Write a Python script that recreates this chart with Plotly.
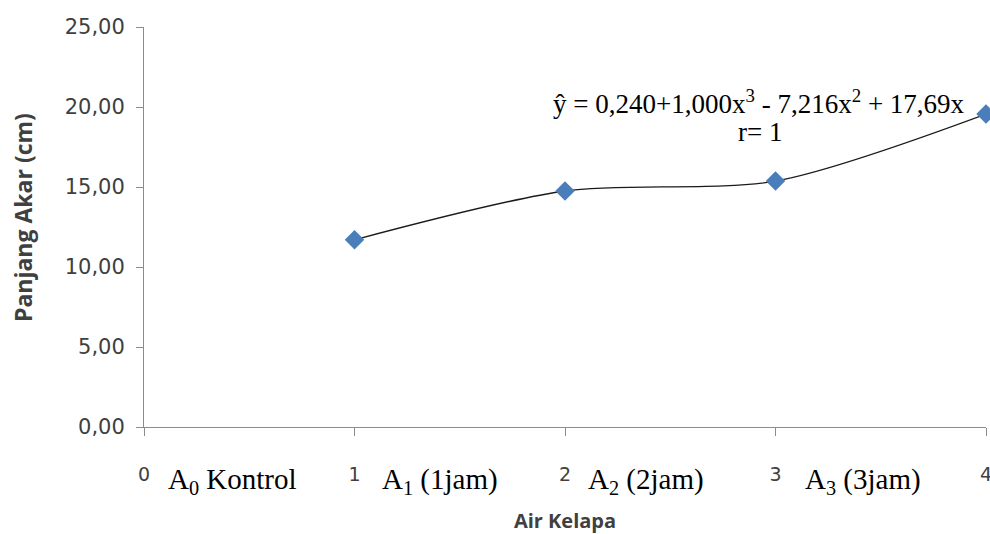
import plotly.graph_objects as go

x_vals = [1, 2, 3, 4]
panjang_akar = [11.70, 14.75, 15.37, 19.56]
x_ticks = [0, 1, 2, 3, 4]
y_ticks = [0, 5, 10, 15, 20, 25]
y_tick_text = ["0,00", "5,00", "10,00", "15,00", "20,00", "25,00"]
group_labels = ["A<sub>0</sub> Kontrol", "A<sub>1</sub> (1jam)", "A<sub>2</sub> (2jam)", "A<sub>3</sub> (3jam)"]
group_label_x = [0.105, 1.12, 2.10, 3.13]
equation = "ŷ = 0,240+1,000x<sup>3</sup> - 7,216x<sup>2</sup> + 17,69x"
r_text = "r= 1"

fig = go.Figure()
fig.add_trace(go.Scatter(
    x=x_vals, y=panjang_akar, mode="lines",
    line=dict(color="#1a1a1a", width=1.3, shape="spline", smoothing=0.8),
    hoverinfo="skip", showlegend=False, cliponaxis=False,
))
fig.add_trace(go.Scatter(
    x=x_vals, y=panjang_akar, mode="markers",
    marker=dict(symbol="diamond", size=15, color="#4a7ebb", line=dict(width=0)),
    showlegend=False, cliponaxis=False,
))

for lbl, gx in zip(group_labels, group_label_x):
    fig.add_annotation(x=gx, xref="x", y=-0.135, yref="paper", text=lbl,
                       showarrow=False, xanchor="left", yanchor="middle",
                       font=dict(family="Liberation Serif", size=29, color="black"))

fig.add_annotation(x=(759 - 144) / 842, xref="paper", y=(427 - 102) / 400, yref="paper",
                   text=equation, showarrow=False, xanchor="center", yanchor="middle",
                   font=dict(family="Liberation Serif", size=27, color="black"))
fig.add_annotation(x=(760 - 144) / 842, xref="paper", y=(427 - 132) / 400, yref="paper",
                   text=r_text, showarrow=False, xanchor="center", yanchor="middle",
                   font=dict(family="Liberation Serif", size=27, color="black"))

fig.add_annotation(x=(23 - 144) / 842, xref="paper", y=(427 - 218) / 400, yref="paper",
                   text="<b>Panjang Akar (cm)</b>", textangle=-90, showarrow=False,
                   xanchor="center", yanchor="middle",
                   font=dict(family="Open Sans", size=23, color="#404040"))

fig.update_layout(
    width=990, height=534,
    margin=dict(l=144, r=4, t=27, b=107),
    paper_bgcolor="white", plot_bgcolor="white",
    font=dict(family="DejaVu Sans", color="#404040"),
    xaxis=dict(
        range=[0, 4], tickvals=x_ticks, ticktext=[str(t) for t in x_ticks],
        showgrid=False, zeroline=False, showline=True, linecolor="#8c8c8c", linewidth=1,
        ticks="outside", ticklen=8, tickcolor="#8c8c8c", automargin=False,
        tickfont=dict(family="DejaVu Sans", size=19, color="#404040"),
        ticklabelstandoff=22, ticklabeloverflow="allow",
        title=dict(text="<b>Air Kelapa</b>", font=dict(family="Open Sans", size=20, color="#404040"), standoff=34),
    ),
    yaxis=dict(
        range=[0, 25], tickvals=y_ticks, ticktext=y_tick_text,
        showgrid=False, zeroline=False, showline=True, linecolor="#8c8c8c", linewidth=1,
        ticks="outside", ticklen=7, tickcolor="#8c8c8c", automargin=False,
        tickfont=dict(family="DejaVu Sans", size=21, color="#404040"),
        ticklabelstandoff=7,
    ),
)

fig.write_html("out.html", config={"displayModeBar": False},
               post_script="document.body.style.margin='0';document.body.style.overflow='hidden';")
